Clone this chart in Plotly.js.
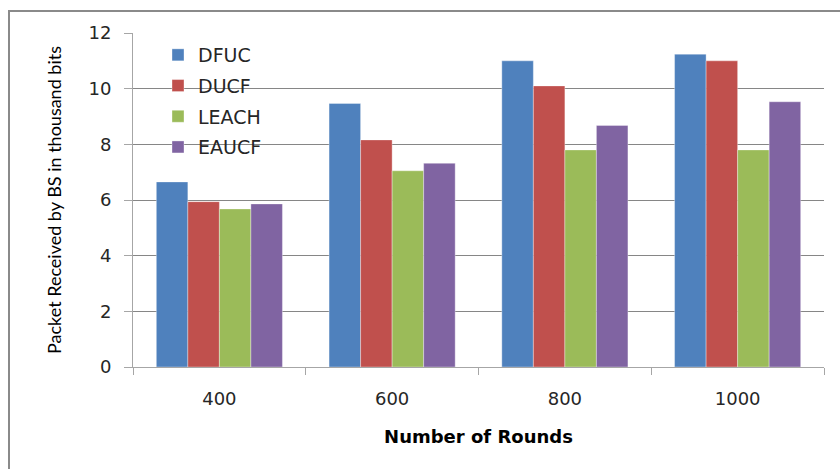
<!DOCTYPE html>
<html>
<head>
<meta charset="utf-8">
<script src="https://cdn.plot.ly/plotly-3.0.1.min.js"></script>
<style>
  html, body { margin: 0; padding: 0; background: #ffffff; }
  #chart { width: 840px; height: 469px; }
</style>
</head>
<body>
<div id="chart"></div>
<script>
// Rounds on the x axis
var rounds = ['400', '600', '800', '1000'];

// Packets received by the base station (thousand bits) per protocol
var dfuc  = [6.65, 9.47, 11.0, 11.24];
var ducf  = [5.94, 8.16, 10.1, 11.0];
var leach = [5.68, 7.05, 7.80, 7.80];
var eaucf = [5.86, 7.32, 8.68, 9.53];

var seriesNames = ['DFUC', 'DUCF', 'LEACH', 'EAUCF'];
var seriesValues = [dfuc, ducf, leach, eaucf];
var seriesColors = ['#4F81BD', '#C0504D', '#9BBB59', '#8064A2'];

var traces = seriesNames.map(function (name, i) {
  return {
    type: 'bar',
    name: name,
    x: rounds,
    y: seriesValues[i],
    legendgroup: name,
    marker: {
      color: seriesColors[i],
      line: { color: 'rgba(255,255,255,0.35)', width: 1 }
    },
    hoverinfo: 'x+y+name'
  };
});

// plot area in pixels, used to place the outer frame
var W = 840, H = 469;
var mL = 133, mR = 16, mT = 33, mB = 102;
var pw = W - mL - mR, ph = H - mT - mB;
function px(x) { return (x - mL) / pw; }
function py(y) { return (H - mB - y) / ph; }

var layout = {
  width: W,
  height: H,
  margin: { l: mL, r: mR, t: mT, b: mB, pad: 0 },
  paper_bgcolor: '#ffffff',
  plot_bgcolor: '#ffffff',
  barmode: 'group',
  bargap: 0.27,
  bargroupgap: 0,
  showlegend: true,
  legend: {
    x: px(158), xanchor: 'left',
    y: py(36), yanchor: 'top',
    bgcolor: 'rgba(0,0,0,0)',
    font: { family: 'DejaVu Sans, sans-serif', size: 19, color: '#262626' },
    tracegroupgap: 3,
    traceorder: 'grouped'
  },
  xaxis: {
    type: 'category',
    range: [-0.5, 3.5],
    showgrid: false,
    showline: true,
    linecolor: '#a6a6a6',
    linewidth: 1,
    ticks: 'outside',
    tickson: 'boundaries',
    ticklen: 7,
    tickcolor: '#a6a6a6',
    ticklabelstandoff: 15,
    tickfont: { family: 'DejaVu Sans, sans-serif', size: 18, color: '#262626' },
    title: {
      text: 'Number of Rounds',
      font: { family: 'DejaVu Sans, sans-serif', size: 18, color: '#000000', weight: 'bold' },
      standoff: 22
    },
    zeroline: false,
    fixedrange: true
  },
  yaxis: {
    range: [0, 12],
    dtick: 2,
    showgrid: true,
    gridcolor: '#868686',
    gridwidth: 1,
    showline: true,
    linecolor: '#a6a6a6',
    linewidth: 1,
    ticks: 'outside',
    ticklen: 8,
    tickcolor: '#a6a6a6',
    ticklabelstandoff: 9,
    tickfont: { family: 'DejaVu Sans, sans-serif', size: 18, color: '#262626' },
    title: {
      text: 'Packet Received by BS in thousand bits',
      font: { family: 'Lato, sans-serif', size: 18, color: '#000000' },
      standoff: 22
    },
    zeroline: false,
    fixedrange: true
  },
  shapes: [{
    type: 'rect',
    xref: 'paper', yref: 'paper',
    x0: px(9), x1: px(850),
    y0: py(480), y1: py(11),
    line: { color: '#8a8a8a', width: 2 },
    fillcolor: 'rgba(0,0,0,0)',
    layer: 'above'
  }]
};

Plotly.newPlot('chart', traces, layout, { displayModeBar: false, staticPlot: true });
</script>
</body>
</html>
